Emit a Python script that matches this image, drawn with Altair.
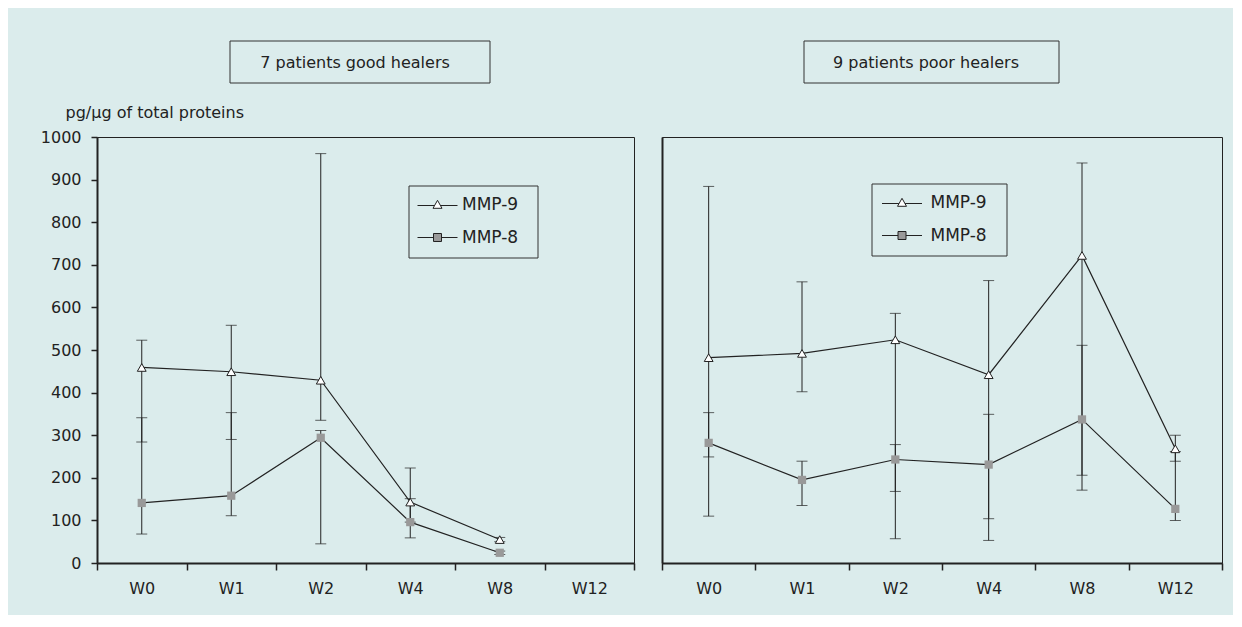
import altair as alt
import pandas as pd

# ---------------- data ----------------
weeks = ["W0", "W1", "W2", "W4", "W8", "W12"]
series_names = ["MMP-9", "MMP-8"]

good_weeks = ["W0", "W1", "W2", "W4", "W8"]
good_mmp9 = [459, 449, 429, 143, 55]
good_mmp9_lo = [284, 290, 335, 96, 50]
good_mmp9_hi = [523, 558, 961, 223, 60]
good_mmp8 = [141, 158, 294, 96, 24]
good_mmp8_lo = [68, 111, 45, 59, 20]
good_mmp8_hi = [341, 353, 311, 151, 28]

poor_weeks = ["W0", "W1", "W2", "W4", "W8", "W12"]
poor_mmp9 = [482, 492, 524, 442, 722, 268]
poor_mmp9_lo = [110, 402, 168, 104, 206, 239]
poor_mmp9_hi = [884, 660, 586, 663, 939, 300]
poor_mmp8 = [282, 195, 243, 231, 337, 127]
poor_mmp8_lo = [249, 135, 57, 53, 171, 100]
poor_mmp8_hi = [353, 239, 278, 349, 511, 262]

y_ticks = list(range(0, 1001, 100))

# ---------------- style ----------------
BG = "#dbecec"
INK = "#222222"
GRAY = "#999999"
FONT = "DejaVu Sans"
P9 = "M-2,0.1H-0.31M0.31,0.1H2M0,-0.42L0.45,0.38L-0.45,0.38Z"
P8 = "M-2,0H-0.4M0.4,0H2M-0.4,-0.4H0.4V0.4H-0.4Z"


def frame(wk, m9, m9lo, m9hi, m8, m8lo, m8hi):
    rows = []
    for i, w in enumerate(wk):
        rows.append({"week": w, "series": "MMP-9", "value": m9[i], "lo": m9lo[i], "hi": m9hi[i]})
        rows.append({"week": w, "series": "MMP-8", "value": m8[i], "lo": m8lo[i], "hi": m8hi[i]})
    return pd.DataFrame(rows)


def panel(df, title, box, text_x, leg, leg_box, left_axis, width):
    xs = alt.Scale(type="band", domain=weeks, paddingInner=0, paddingOuter=0)
    xax = alt.Axis(title=None, labelAngle=0, labelFont=FONT, labelFontSize=16, labelColor=INK,
                   tickBand="extent", tickSize=7, tickColor=INK, tickWidth=1.5,
                   domainColor=INK, domainWidth=2, labelPadding=10, grid=False)
    ys = alt.Scale(domain=[0, 1000], nice=False, zero=True)
    if left_axis:
        yax = alt.Axis(values=y_ticks, format="d", title="pg/µg of total proteins", titleAngle=0,
                       titleAlign="left", titleBaseline="alphabetic", titleX=-32, titleY=-20,
                       titleFont=FONT, titleFontSize=16, titleFontWeight="normal", titleColor=INK,
                       labelFont=FONT, labelFontSize=16, labelColor=INK, labelPadding=10,
                       tickSize=6, tickColor=INK, tickWidth=1.5,
                       domainColor=INK, domainWidth=2, grid=False)
    else:
        yax = alt.Axis(labels=False, ticks=False, title=None, domainColor=INK,
                       domainWidth=2, grid=False)

    X = alt.X("week:N", scale=xs, axis=xax, sort=weeks)
    base = alt.Chart(df)

    tdf = pd.DataFrame({"t": [title]})
    tbox = alt.Chart(tdf).mark_rect(fill=BG, stroke="#333333", strokeWidth=1).encode(
        x=alt.value(box[0]), x2=alt.value(box[1]), y=alt.value(-96), y2=alt.value(-54))
    ttext = alt.Chart(tdf).mark_text(font=FONT, fontSize=16, color=INK).encode(
        x=alt.value(text_x), y=alt.value(-74), text="t:N")

    rules = base.mark_rule(color=INK, strokeWidth=1).encode(
        x=X, y=alt.Y("lo:Q", scale=ys, axis=yax), y2="hi:Q")
    cap_lo = base.mark_tick(orient="horizontal", size=11, thickness=1, color=INK).encode(
        x=X, y=alt.Y("lo:Q", scale=ys, axis=yax))
    cap_hi = base.mark_tick(orient="horizontal", size=11, thickness=1, color=INK).encode(
        x=X, y=alt.Y("hi:Q", scale=ys, axis=yax))
    line = base.mark_line(color=INK, strokeWidth=1.2).encode(
        x=X, y=alt.Y("value:Q", scale=ys, axis=yax), detail="series:N")
    tri = base.transform_filter(alt.datum.series == "MMP-9").mark_point(
        shape="triangle-up", filled=True, fill="white", stroke=INK, strokeWidth=1,
        size=78, opacity=1).encode(x=X, y=alt.Y("value:Q", scale=ys, axis=yax))
    sq = base.transform_filter(alt.datum.series == "MMP-8").mark_point(
        shape="square", filled=True, color=GRAY, size=68, opacity=1).encode(
        x=X, y=alt.Y("value:Q", scale=ys, axis=yax))

    L = alt.Legend(title=None, orient="none", legendX=leg[0], legendY=leg[1], padding=8,
                   symbolSize=400, symbolStrokeColor=INK, symbolStrokeWidth=1,
                   symbolOpacity=1, symbolOffset=leg[2], labelOffset=leg[3], rowPadding=14,
                   labelFont=FONT, labelFontSize=17, labelColor=INK)
    legend_layer = base.transform_filter("false").mark_point(filled=True).encode(
        x=X, y=alt.Y("value:Q", scale=ys, axis=yax),
        shape=alt.Shape("series:N", scale=alt.Scale(domain=series_names, range=[P9, P8]), legend=L),
        fill=alt.Fill("series:N", scale=alt.Scale(domain=series_names, range=["white", GRAY]), legend=L),
        stroke=alt.Stroke("series:N", scale=alt.Scale(domain=series_names, range=[INK, INK]), legend=L))
    lbox = alt.Chart(tdf).mark_rect(fillOpacity=0, stroke="#333333", strokeWidth=1).encode(
        x=alt.value(leg_box[0]), x2=alt.value(leg_box[1]),
        y=alt.value(leg_box[2]), y2=alt.value(leg_box[3]))

    return alt.layer(tbox, ttext, rules, cap_lo, cap_hi, line, tri, sq, legend_layer, lbox).properties(
        width=width, height=426)


good_df = frame(good_weeks, good_mmp9, good_mmp9_lo, good_mmp9_hi, good_mmp8, good_mmp8_lo, good_mmp8_hi)
poor_df = frame(poor_weeks, poor_mmp9, poor_mmp9_lo, poor_mmp9_hi, poor_mmp8, poor_mmp8_lo, poor_mmp8_hi)

left = panel(good_df, "7 patients good healers", (133, 393), 258,
             (312, 49, 10, 14), (312, 441, 49, 121), True, 537)
right = panel(poor_df, "9 patients poor healers", (142, 397), 264,
              (210, 47, 11.5, 18), (210, 345, 47, 119), False, 560)

chart = alt.hconcat(left, right, spacing=24).resolve_scale(
    shape="independent", fill="independent", stroke="independent"
).resolve_legend(
    shape="independent", fill="independent", stroke="independent"
).properties(
    background=BG,
    padding={"left": 31, "top": 32, "right": 9, "bottom": 18},
).configure_view(stroke=INK, strokeWidth=1)

chart.save("out.html", embed_options={"renderer": "svg", "actions": False})
